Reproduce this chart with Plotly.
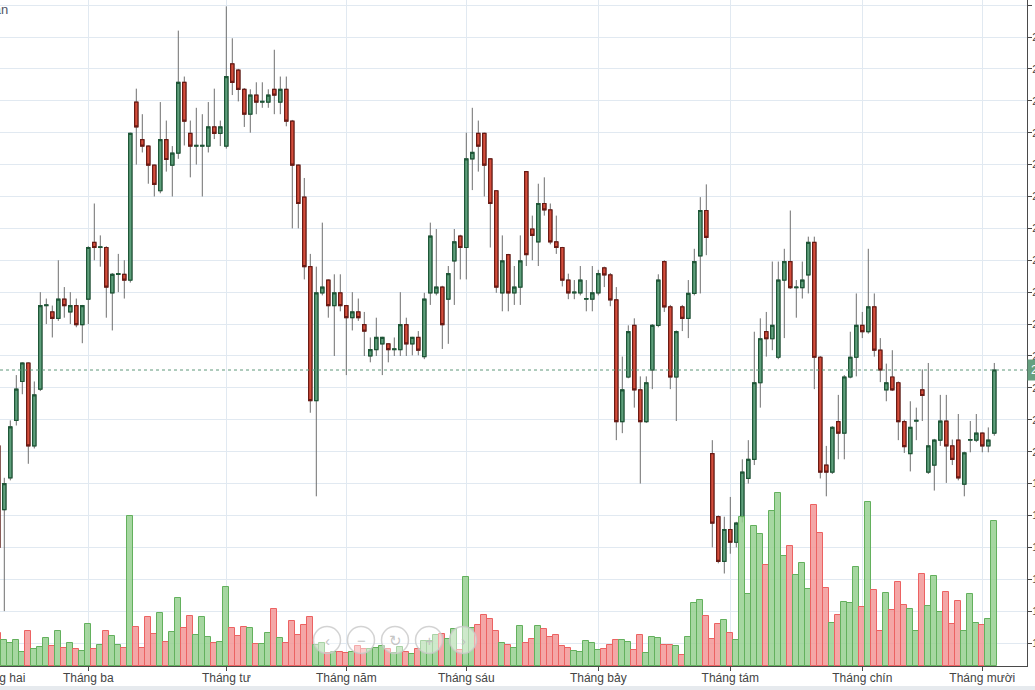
import plotly.graph_objects as go
import pandas as pd

# ---------------- data ----------------
open_ = [20.09, 19.09, 19.59, 20.49, 21.10, 21.39, 20.09, 20.98, 22.29, 22.19, 22.09,
         22.39, 22.19, 22.29, 21.99, 22.39, 23.28, 23.20, 23.20, 22.49, 22.78, 22.78,
         22.69, 25.48, 24.89, 24.79, 24.49, 24.09, 24.89, 24.49, 24.68, 25.79, 24.99,
         24.79, 24.79, 24.79, 25.09, 24.99, 24.79, 26.08, 25.98, 25.68, 25.29, 25.59,
         25.48, 25.48, 25.68, 25.48, 25.68, 25.18, 24.49, 23.99, 22.90, 20.80, 22.49,
         22.69, 22.29, 22.49, 22.29, 22.10, 22.19, 21.99, 21.50, 21.60, 21.69, 21.69,
         21.60, 21.60, 21.99, 21.69, 21.79, 21.49, 22.49, 22.49, 22.58, 22.39, 22.99,
         23.38, 23.20, 24.59, 24.99, 24.99, 24.59, 24.09, 22.49, 23.09, 22.49, 22.58,
         24.39, 23.49, 23.29, 23.89, 23.79, 23.29, 23.20, 22.69, 22.49, 22.49, 22.39,
         22.39, 22.49, 22.88, 22.77, 22.38, 20.47, 21.17, 21.98, 20.97, 20.47, 21.28,
         21.98, 22.98, 22.27, 21.17, 22.27, 22.09, 22.48, 23.07, 23.78, 19.97, 18.98,
         18.28, 18.78, 18.58, 18.98, 19.58, 19.88, 21.08, 21.88, 21.77, 21.48, 22.69,
         22.98, 22.57, 22.57, 22.77, 23.28, 21.48, 19.79, 19.68, 20.47, 20.29, 21.17,
         21.48, 21.98, 21.88, 22.27, 21.59, 20.97, 21.17, 21.08, 20.47, 19.97, 20.48,
         20.97, 19.68, 19.79, 20.18, 20.48, 20.09, 20.18, 19.49, 20.18, 20.18, 20.29,
         20.09, 20.29]
high = [20.20, 19.59, 20.49, 21.20, 21.40, 21.40, 21.10, 22.50, 22.40, 22.29, 23.00,
        22.58, 22.50, 22.40, 22.30, 23.22, 23.89, 23.39, 23.22, 22.80, 23.10, 23.00,
        25.00, 25.69, 25.29, 24.80, 24.50, 25.48, 25.19, 24.79, 26.60, 25.88, 25.19,
        25.39, 25.29, 25.48, 25.69, 25.19, 26.98, 26.48, 26.00, 25.70, 25.68, 25.79,
        25.79, 25.68, 26.30, 25.88, 25.88, 25.20, 24.50, 24.29, 23.10, 22.90, 23.59,
        22.70, 22.78, 22.78, 22.30, 22.50, 22.40, 22.19, 21.79, 22.10, 21.80, 21.70,
        21.79, 22.50, 22.10, 21.80, 21.89, 22.49, 23.59, 23.49, 22.60, 22.91, 23.49,
        23.40, 25.00, 25.39, 25.19, 25.00, 24.60, 24.10, 23.39, 23.10, 22.91, 23.39,
        24.40, 23.70, 24.20, 24.30, 23.89, 23.70, 23.21, 22.79, 22.69, 22.91, 22.69,
        22.91, 22.85, 22.90, 22.80, 22.58, 21.49, 21.98, 22.09, 21.18, 21.18, 22.00,
        22.78, 23.00, 22.30, 21.90, 22.30, 22.69, 23.18, 23.99, 24.19, 20.18, 19.00,
        18.98, 19.29, 18.90, 19.88, 20.18, 21.88, 22.09, 22.19, 22.98, 22.98, 23.18,
        23.78, 22.69, 22.98, 23.37, 23.37, 21.50, 20.09, 20.40, 20.89, 21.20, 21.88,
        22.48, 22.19, 23.18, 22.48, 21.78, 21.38, 21.59, 21.10, 20.50, 20.79, 20.69,
        21.29, 21.39, 20.20, 20.89, 20.89, 20.19, 20.59, 20.00, 20.48, 20.59, 20.30,
        20.38, 21.39]
low = [18.30, 17.50, 19.55, 20.41, 20.90, 19.81, 20.05, 20.95, 22.00, 21.79, 22.05,
       22.10, 22.00, 21.95, 21.70, 22.00, 23.00, 22.90, 22.10, 21.90, 22.50, 22.40,
       22.65, 24.50, 24.69, 24.20, 24.00, 24.05, 24.39, 24.00, 24.59, 24.80, 24.30,
       24.50, 24.00, 24.69, 24.90, 24.79, 24.75, 25.59, 25.49, 25.09, 25.00, 25.29,
       25.39, 25.39, 25.29, 25.29, 25.10, 23.50, 23.50, 22.70, 20.61, 19.30, 22.45,
       22.10, 21.50, 22.20, 21.20, 21.90, 22.05, 21.50, 21.40, 21.50, 21.20, 21.40,
       21.50, 21.50, 21.50, 21.51, 21.51, 21.45, 22.30, 22.45, 21.61, 21.69, 22.30,
       22.70, 22.70, 24.10, 24.39, 24.00, 23.20, 22.49, 22.20, 22.20, 22.30, 22.30,
       22.91, 23.00, 22.91, 23.70, 23.25, 23.10, 22.59, 22.39, 22.39, 22.45, 22.20,
       22.20, 22.45, 22.58, 22.28, 20.18, 20.29, 21.15, 20.69, 19.50, 20.45, 20.98,
       21.95, 22.19, 20.98, 20.48, 21.89, 21.78, 22.45, 22.48, 23.08, 18.50, 18.25,
       18.09, 18.40, 18.50, 18.89, 19.50, 19.79, 20.69, 21.49, 21.59, 21.45, 21.78,
       22.55, 22.10, 22.40, 22.48, 20.98, 19.58, 19.30, 19.65, 19.88, 19.88, 21.15,
       21.18, 21.78, 21.85, 21.49, 21.09, 20.79, 20.95, 20.18, 19.98, 19.69, 20.18,
       20.48, 19.65, 19.39, 20.09, 19.51, 19.79, 19.55, 19.30, 19.99, 20.15, 19.99,
       19.99, 20.25]
close = [18.50, 19.50, 20.39, 20.98, 21.39, 20.09, 20.89, 22.29, 22.30, 22.09, 22.39,
         22.29, 22.29, 21.99, 22.29, 23.20, 23.20, 23.21, 22.58, 22.78, 22.79, 22.69,
         24.99, 25.09, 24.79, 24.49, 24.19, 24.89, 24.58, 24.68, 25.79, 25.18, 24.79,
         24.80, 24.80, 25.09, 24.99, 25.09, 25.88, 25.79, 25.68, 25.29, 25.59, 25.48,
         25.49, 25.59, 25.59, 25.68, 25.18, 24.49, 23.89, 22.90, 20.80, 22.49, 22.58,
         22.29, 22.49, 22.29, 22.10, 22.19, 22.10, 21.89, 21.60, 21.79, 21.79, 21.60,
         21.61, 21.99, 21.69, 21.79, 21.59, 22.39, 23.38, 22.58, 21.99, 22.79, 23.29,
         23.20, 24.59, 24.69, 24.79, 24.49, 23.89, 22.58, 22.99, 22.49, 22.58, 22.99,
         23.09, 23.39, 23.89, 23.79, 23.29, 23.20, 22.69, 22.49, 22.50, 22.69, 22.40,
         22.49, 22.79, 22.77, 22.38, 20.47, 20.97, 21.88, 20.97, 20.47, 21.08, 21.98,
         22.69, 22.27, 21.17, 21.88, 22.09, 22.48, 22.98, 23.78, 23.36, 18.88, 18.28,
         18.78, 18.58, 18.88, 19.68, 19.88, 21.08, 21.77, 21.77, 21.98, 22.69, 22.98,
         22.57, 22.58, 22.69, 23.28, 21.48, 19.68, 19.68, 20.38, 20.29, 21.17, 21.48,
         21.98, 21.88, 22.27, 21.59, 21.28, 21.08, 20.97, 20.47, 20.08, 20.38, 20.49,
         20.88, 20.09, 20.18, 20.48, 20.09, 19.88, 19.59, 19.98, 20.19, 20.29, 20.09,
         20.18, 21.28]
volume = [327, 260, 233, 260, 140, 350, 167, 187, 277, 200, 350, 177, 227, 167, 150,
          420, 167, 210, 350, 300, 210, 177, 1500, 390, 177, 490, 323, 527, 240, 340,
          685, 380, 500, 310, 490, 290, 227, 240, 790, 380, 300, 390, 380, 220, 220,
          330, 567, 280, 230, 450, 310, 410, 490, 214, 227, 130, 140, 140, 130, 140,
          205, 170, 170, 180, 197, 170, 130, 195, 140, 123, 175, 254, 254, 306, 317,
          272, 373, 160, 888, 384, 414, 515, 474, 347, 228, 213, 183, 396, 228, 269,
          403, 373, 295, 313, 205, 183, 146, 138, 254, 228, 157, 170, 210, 260, 260,
          240, 160, 307, 127, 287, 277, 210, 210, 200, 110, 287, 627, 657, 500, 267,
          420, 457, 327, 260, 1493, 717, 1397, 1317, 1007, 1550, 1727, 1100, 1197, 907,
          1027, 767, 1607, 1327, 777, 427, 507, 643, 627, 987, 587, 1637, 757, 347,
          727, 557, 837, 607, 567, 347, 917, 597, 897, 537, 737, 417, 647, 347, 717,
          427, 407, 467, 1447]

holidays = ["2021-02-10", "2021-02-11", "2021-02-12", "2021-02-15", "2021-02-16",
            "2021-04-21", "2021-04-30", "2021-05-03", "2021-09-02", "2021-09-03"]
month_ticks = ["2021-02-01", "2021-03-01", "2021-04-01", "2021-05-04", "2021-06-01",
               "2021-07-01", "2021-08-02", "2021-09-01", "2021-10-01"]
month_labels = ["Tháng hai", "Tháng ba", "Tháng tư", "Tháng năm", "Tháng sáu",
                "Tháng bảy", "Tháng tám", "Tháng chín", "Tháng mười"]
last_price = 21.28

# trading days (weekdays minus market holidays)
dates = [d for d in pd.bdate_range("2021-02-01", "2021-10-05")
         if d.strftime("%Y-%m-%d") not in holidays]
n = min(len(dates), len(open_))
dates = dates[:n]

# ---------------- styles ----------------
GRID = "#e1e9f1"
AXIS = "#4a4a4a"
FONT = "Liberation Sans, Arial, sans-serif"

inc = [c >= o for o, c in zip(open_, close)]
vol_fill = ["rgba(150,208,145,0.85)" if u else "rgba(242,150,150,0.85)" for u in inc]
vol_line = ["#63b05d" if u else "#ec6262" for u in inc]
body_hi = [max(o, c) for o, c in zip(open_, close)]
body_lo = [min(o, c) for o, c in zip(open_, close)]

fig = go.Figure()
fig.add_trace(go.Bar(
    x=dates, y=volume[:n], yaxis="y2",
    marker=dict(color=vol_fill[:n], line=dict(color=vol_line[:n], width=1)),
    showlegend=False, hoverinfo="skip"))
# wicks (grey)
fig.add_trace(go.Candlestick(
    x=dates, open=open_[:n], high=high[:n], low=low[:n], close=close[:n],
    increasing=dict(line=dict(color="#6e6e6e", width=1), fillcolor="#6e6e6e"),
    decreasing=dict(line=dict(color="#6e6e6e", width=1), fillcolor="#6e6e6e"),
    showlegend=False, hoverinfo="skip"))
# bodies
fig.add_trace(go.Candlestick(
    x=dates, open=open_[:n], high=body_hi[:n], low=body_lo[:n], close=close[:n],
    increasing=dict(line=dict(color="#1d5636", width=1.2), fillcolor="#5f9f7c"),
    decreasing=dict(line=dict(color="#6a1a14", width=1.2), fillcolor="#d44e3c"),
    showlegend=False, hoverinfo="skip"))

PW, PH = 1027.0, 666.0
shapes = [
    dict(type="line", xref="paper", yref="y", x0=0, x1=1, y0=last_price, y1=last_price,
         line=dict(color="#5e987a", width=1, dash="3px,3px"), layer="above"),
    dict(type="rect", xref="paper", yref="paper", x0=-0.01, x1=1.02,
         y0=-(686 - PH) / PH, y1=-(695 - PH) / PH, fillcolor="#e6eaee", line=dict(width=0)),
]
annotations = [
    dict(xref="paper", yref="y", x=1, y=last_price, xanchor="left", yanchor="middle",
         text="21,28", showarrow=False, bgcolor="#66a080", borderpad=3,
         font=dict(color="white", size=12, family=FONT)),
    dict(xref="paper", yref="paper", x=-1.7 / PW, y=-3 / PH, xanchor="center", yanchor="top",
         text="Tháng hai", showarrow=False, font=dict(size=12, color="#444", family=FONT)),
    dict(xref="paper", yref="paper", x=10 / PW, y=(PH - 10) / PH, xanchor="right", yanchor="middle",
         text="Tuần", showarrow=False, font=dict(size=13, color="#4f5566", family=FONT)),
]
# navigation buttons overlay
for cx, sym in zip([327, 361, 395, 429, 463], ["‹", "−", "↻", "+", "›"]):
    r = 13.5
    shapes.append(dict(type="circle", xref="paper", yref="paper",
                       x0=(cx - r) / PW, x1=(cx + r) / PW,
                       y0=(PH - 640 - r) / PH, y1=(PH - 640 + r) / PH,
                       fillcolor="rgba(255,255,255,0.45)",
                       line=dict(color="rgba(200,200,200,0.8)", width=1.5), layer="above"))
    annotations.append(dict(xref="paper", yref="paper", x=cx / PW, y=(PH - 640) / PH,
                            text=sym, showarrow=False, xanchor="center", yanchor="middle",
                            font=dict(size=15, color="rgba(190,190,190,0.9)", family=FONT)))

fig.update_layout(
    width=1035, height=690,
    margin=dict(l=0, r=8, t=0, b=24, autoexpand=False),
    plot_bgcolor="white", paper_bgcolor="white",
    bargap=0.0, boxgap=0.2,
    font=dict(family=FONT, size=12, color="#444"),
    showlegend=False,
    xaxis=dict(
        type="date", automargin=False,
        range=["2021-02-01 06:48", "2021-10-12 10:48"],
        rangebreaks=[dict(bounds=["sat", "mon"]), dict(values=holidays)],
        tickvals=month_ticks, ticktext=month_labels,
        showgrid=True, gridcolor=GRID, gridwidth=1,
        ticks="outside", ticklen=4, tickcolor=AXIS,
        ticklabelstandoff=-3,
        showline=True, linecolor=AXIS, linewidth=1,
        rangeslider=dict(visible=False),
        tickfont=dict(size=12, color="#444", family=FONT),
        zeroline=False,
    ),
    yaxis=dict(
        side="right", automargin=False, range=[16.64, 27.08], tick0=17, dtick=0.5,
        tickformat=".2f", ticklabelstandoff=-2,
        showgrid=True, gridcolor=GRID, gridwidth=1,
        ticks="outside", ticklen=4, tickcolor=AXIS,
        showline=True, linecolor=AXIS, linewidth=1, zeroline=False,
        tickfont=dict(size=11, color="#444", family=FONT),
    ),
    yaxis2=dict(overlaying="y", range=[0, 6660], visible=False, showgrid=False),
    shapes=shapes,
    annotations=annotations,
)

fig.write_html("out.html")
